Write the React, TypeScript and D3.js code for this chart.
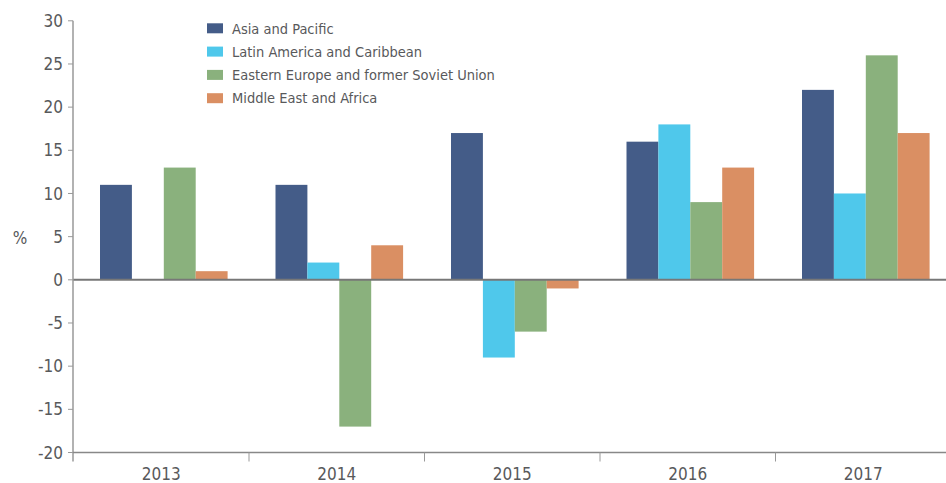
import React from "react";
import * as d3 from "d3";

const years = ["2013", "2014", "2015", "2016", "2017"];
const seriesNames = [
  "Asia and Pacific",
  "Latin America and Caribbean",
  "Eastern Europe and former Soviet Union",
  "Middle East and Africa",
];
const asiaPacific = [11, 11, 17, 16, 22];
const latinAmerica = [0, 2, -9, 18, 10];
const easternEurope = [13, -17, -6, 9, 26];
const middleEastAfrica = [1, 4, -1, 13, 17];
const seriesValues = [asiaPacific, latinAmerica, easternEurope, middleEastAfrica];
const colors = ["#445c88", "#4fc8eb", "#8ab17d", "#da8f63"];
const yTicks = [-20, -15, -10, -5, 0, 5, 10, 15, 20, 25, 30];

const W = 946;
const H = 483;
const FONT = "'Liberation Sans Narrow', 'DejaVu Sans Condensed', 'Roboto', sans-serif";
const TEXT = "#58595b";

export default function App() {
  const x0 = d3.scaleBand<string>().domain(years).range([73.5, 951]).paddingInner(0).paddingOuter(0);
  const x1 = d3
    .scaleBand<string>()
    .domain(seriesNames)
    .range([26.5, 26.5 + 127.6])
    .padding(0);
  const y = d3.scaleLinear().domain([-20, 30]).range([452.5, 20.8]);

  return (
    <div style={{ position: "fixed", left: 0, top: 0 }}>
      <svg width={W} height={H} style={{ display: "block", fontFamily: FONT }}>
        <rect x={0} y={0} width={W} height={H} fill="#fff" />
        {years.map((yr, i) => (
          <g key={yr} transform={`translate(${x0(yr)},0)`}>
            {seriesNames.map((s, j) => {
              const v = seriesValues[j][i];
              if (v === 0) return null;
              const y0 = y(0);
              const yv = y(v);
              return (
                <rect
                  key={s}
                  x={x1(s)}
                  y={Math.min(y0, yv)}
                  width={x1.bandwidth()}
                  height={Math.abs(yv - y0)}
                  fill={colors[j]}
                />
              );
            })}
          </g>
        ))}
        <line x1={73} x2={W} y1={y(0)} y2={y(0)} stroke="#777" strokeWidth={2} />
        <line x1={73} x2={73} y1={y(30)} y2={y(-20) + 9} stroke="#999" strokeWidth={1.5} />
        {yTicks.map((t) => (
          <g key={t}>
            <line x1={68} x2={73} y1={y(t)} y2={y(t)} stroke="#999" strokeWidth={1} />
            <text x={63} y={y(t)} dy="0.36em" textAnchor="end" fontSize={17} fill={TEXT}>
              {t}
            </text>
          </g>
        ))}
        <text x={20} y={238} dy="0.36em" textAnchor="middle" fontSize={17} fill={TEXT}>
          %
        </text>
        <line x1={73} x2={W} y1={y(-20)} y2={y(-20)} stroke="#888" strokeWidth={1.5} />
        {years.map((yr) => (
          <g key={yr}>
            <line
              x1={(x0(yr) as number) + x0.bandwidth()}
              x2={(x0(yr) as number) + x0.bandwidth()}
              y1={y(-20)}
              y2={y(-20) + 9}
              stroke="#999"
              strokeWidth={1}
            />
            <text
              x={(x0(yr) as number) + x0.bandwidth() / 2}
              y={480}
              textAnchor="middle"
              fontSize={17}
              fill={TEXT}
            >
              {yr}
            </text>
          </g>
        ))}
        {seriesNames.map((s, j) => (
          <g key={s} transform={`translate(207,${28.3 + j * 23.3})`}>
            <rect x={0} y={-5} width={16} height={10} fill={colors[j]} />
            <text x={25} y={0} dy="0.36em" fontSize={14.5} fill={TEXT}>
              {s}
            </text>
          </g>
        ))}
      </svg>
    </div>
  );
}
